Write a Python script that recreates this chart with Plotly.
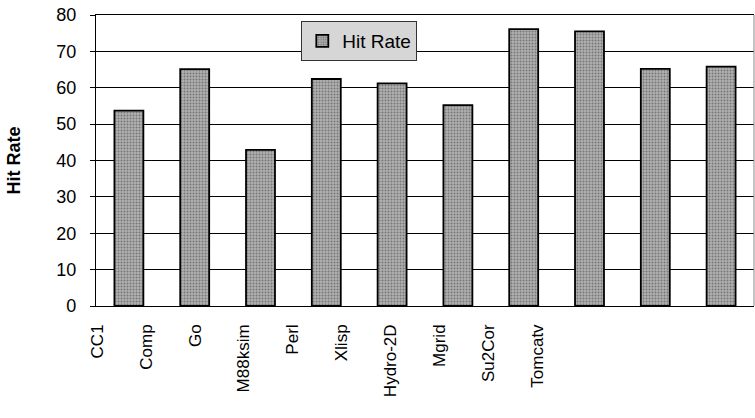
import plotly.graph_objects as go

categories = ["CC1", "Comp", "Go", "M88ksim", "Perl", "Xlisp",
              "Hydro-2D", "Mgrid", "Su2Cor", "Tomcatv"]
hit_rate = [53.7, 65.1, 42.9, 62.4, 61.2, 55.2, 76.1, 75.5, 65.2, 65.8]
y_ticks = [0, 10, 20, 30, 40, 50, 60, 70, 80]

FONT = "Liberation Sans, Arial, sans-serif"

fig = go.Figure()
fig.add_trace(go.Bar(
    x=categories, y=hit_rate, name="Hit Rate",
    marker=dict(color="#a0a0a0",
                line=dict(color="black", width=1.8),
                pattern=dict(shape=".", fgcolor="#3c3c3c", bgcolor="#b0b0b0",
                             size=3, solidity=0.35)),
    hoverinfo="x+y",
))
# invisible helper trace carrying the category labels on a second x axis
fig.add_trace(go.Scatter(
    x=categories, y=hit_rate, xaxis="x2", mode="markers",
    marker=dict(opacity=0), showlegend=False, hoverinfo="skip",
))

fig.update_layout(
    width=755, height=418,
    margin=dict(l=96, r=1, t=15, b=112),
    paper_bgcolor="white", plot_bgcolor="white",
    font=dict(family=FONT, color="black", size=16),
    bargap=0.56,
    showlegend=True,
    legend=dict(x=0.312, y=0.979, xanchor="left", yanchor="top",
                bgcolor="#d6d6d6", bordercolor="#333333", borderwidth=1,
                font=dict(size=19, family=FONT),
                itemwidth=30),
    xaxis=dict(type="category", showticklabels=False, ticks="",
               showline=True, linecolor="black", linewidth=1.2,
               showgrid=False, mirror=True, range=[-0.5, 9.5],
               automargin=False),
    xaxis2=dict(type="category", anchor="y", overlaying="x",
                range=[-0.0204, 13.41], tickmode="array",
                tickvals=categories, ticktext=categories,
                tickangle=-90, ticks="", showline=False, showgrid=False,
                ticklabelstandoff=14, side="bottom", automargin=False,
                tickfont=dict(size=17, family=FONT)),
    yaxis=dict(range=[0, 80], tickvals=y_ticks,
               showgrid=True, gridcolor="black", gridwidth=1,
               showline=True, linecolor="black", linewidth=1.2,
               ticks="outside", ticklen=5, tickcolor="black",
               ticklabelstandoff=10, automargin=False,
               tickfont=dict(size=18, family=FONT),
               title=dict(text="<b>Hit Rate</b>", standoff=30,
                          font=dict(size=18, family=FONT)),
               zeroline=False),
    shapes=[dict(type="line", xref="paper", yref="paper", x0=1, x1=1, y0=0, y1=1,
                 line=dict(color="#888888", width=1))],
)

fig.write_html(
    "out.html",
    config={"displayModeBar": False},
    post_script="document.body.style.margin='0';document.body.style.overflow='hidden';",
)
